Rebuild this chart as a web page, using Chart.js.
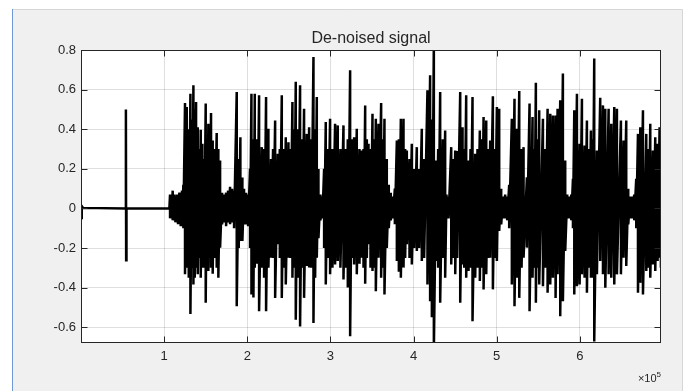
<!DOCTYPE html>
<html>
<head>
<meta charset="utf-8">
<script src="https://cdn.jsdelivr.net/npm/chart.js@4/dist/chart.umd.min.js"></script>
<style>
html,body{margin:0;padding:0;background:#ffffff;}
canvas{display:block;}
</style>
</head>
<body>
<canvas id="c" width="688" height="391"></canvas>
<script>
// ---- Data ----
const titleText = 'De-noised signal';

// quiet lead-in (sample index, amplitude)
const leadSample = [0, 600, 1200, 2500, 53600, 54000, 54300, 54700, 106300];
const leadAmp    = [0.01, -0.055, 0.012, 0.003, 0.0, 0.50, -0.262, 0.0, 0.0];

// active part: per column, sample index with its upper and lower excursion
const burstSample = [
 107100,108700,110300,111900,113500,115100,116700,118300,119900,121500,123100,
 125100,127200,129600,131600,133600,135200,136800,138400,140400,142400,144000,
 146000,148000,150000,151600,153200,154800,156400,158400,160400,163200,165200,
 167300,169700,172100,174500,176900,179300,181700,184100,187300,189700,191700,
 194100,196100,198500,201000,203300,205000,207400,209000,
 211800,214200,217400,220200,222600,225400,228600,231000,233500,236700,239100,
 241500,243900,246300,249500,251900,254300,256300,258300,260700,263500,265900,
 268300,271500,274400,276800,279600,281600,283600,285600,288000,290400,292400,
 294400,296800,299600,302400,305600,308800,312000,315700,318500,320900,323700,326000,
 328500,331700,334900,337800,339800,341800,343800,345800,348200,350600,352600,
 354600,357800,361000,363000,365000,367800,370200,372600,375000,377500,379900,
 382300,384700,387900,389900,391900,395100,397900,400700,403900,406700,409900,
 412700,416700,419900,422000,424400,427200,429600,432000,435200,438000,
 439600,442100,445300,447700,450100,452500,456100,458900,460900,463300,466100,
 468500,470900,474100,476900,479700,482200,484200,487400,489800,492200,495400,
 497800,500200,503000,505400,507800,510200,512600,515000,518200,521400,524300,
 527100,529900,532300,536300,539500,543100,545100,547100,549100,551100,
 555600,558400,561200,564400,567600,570800,573200,576400,579600,582400,584800,
 587300,589700,591700,593300,596500,599700,602500,605700,608500,610900,613300,
 615300,617300,620500,624500,627800,630600,634600,637800,641400,644600,649400,
 652600,655800,658200,660600,663000,665400,667800,669900,672700,675900,679900,
 682300,684700,687900,690700,693500,695900,697500
];
const burstHigh = [
 0.07,0.06,0.09,0.07,0.06,0.07,0.07,0.08,0.08,0.09,0.12,
 0.533,0.513,0.40,0.580,0.45,0.623,0.50,0.538,0.411,0.30,0.398,
 0.327,0.25,0.530,0.35,0.428,0.35,0.482,0.343,0.30,0.381,0.30,
 0.242,0.08,0.07,0.08,0.09,0.11,0.10,0.09,0.589,0.25,0.360,
 0.157,0.10,0.08,0.07,0.20,0.580,0.35,0.58,
 0.35,0.572,0.310,0.30,0.563,0.403,0.250,0.30,0.445,0.276,0.30,
 0.572,0.30,0.360,0.335,0.30,0.538,0.40,0.640,0.40,0.623,0.35,
 0.504,0.377,0.411,0.35,0.766,0.40,0.563,0.20,0.07,0.06,0.20,
 0.437,0.30,0.453,0.30,0.428,0.420,0.30,0.420,0.30,0.35,0.699,0.35,
 0.360,0.403,0.30,0.293,0.30,0.521,0.35,0.327,0.30,0.479,0.35,
 0.453,0.428,0.533,0.35,0.453,0.25,0.12,0.08,0.06,0.10,0.343,
 0.35,0.453,0.453,0.30,0.293,0.25,0.327,0.20,0.310,0.20,0.403,
 0.25,0.597,0.673,0.45,0.85,0.242,0.30,0.589,0.35,0.394,
 0.07,0.06,0.310,0.25,0.293,0.29,0.589,0.411,0.30,0.572,0.242,
 0.30,0.563,0.276,0.30,0.394,0.35,0.462,0.445,0.30,0.343,0.567,
 0.30,0.513,0.504,0.10,0.06,0.07,0.06,0.12,0.453,0.555,0.403,
 0.594,0.30,0.310,0.157,0.530,0.462,0.30,0.636,0.35,0.496,
 0.453,0.30,0.504,0.479,0.470,0.470,0.504,0.547,0.682,0.242,0.07,
 0.06,0.07,0.15,0.496,0.580,0.327,0.555,0.318,0.445,0.30,0.394,
 0.35,0.758,0.293,0.560,0.521,0.504,0.504,0.428,0.513,0.504,0.445,
 0.343,0.445,0.10,0.06,0.06,0.07,0.15,0.377,0.411,0.496,0.377,
 0.30,0.428,0.293,0.360,0.327,0.411,0.30
];
const burstLow = [
 -0.05,-0.05,-0.06,-0.06,-0.07,-0.07,-0.08,-0.08,-0.09,-0.09,-0.10,
 -0.333,-0.30,-0.35,-0.533,-0.30,-0.384,-0.35,-0.30,-0.333,-0.25,-0.350,
 -0.30,-0.30,-0.477,-0.30,-0.316,-0.25,-0.30,-0.33,-0.25,-0.30,-0.350,
 -0.198,-0.08,-0.07,-0.09,-0.07,-0.08,-0.07,-0.10,-0.494,-0.20,-0.164,
 -0.164,-0.08,-0.08,-0.09,-0.20,-0.435,-0.45,-0.30,
 -0.28,-0.519,-0.30,-0.35,-0.519,-0.30,-0.249,-0.25,-0.452,-0.181,-0.25,
 -0.452,-0.30,-0.384,-0.249,-0.25,-0.350,-0.30,-0.562,-0.35,-0.596,-0.30,
 -0.452,-0.291,-0.299,-0.30,-0.579,-0.35,-0.249,-0.15,-0.06,-0.05,-0.20,
 -0.384,-0.25,-0.333,-0.30,-0.283,-0.266,-0.30,-0.359,-0.30,-0.40,-0.646,-0.25,
 -0.283,-0.333,-0.28,-0.249,-0.30,-0.381,-0.25,-0.181,-0.30,-0.316,-0.30,
 -0.418,-0.249,-0.350,-0.30,-0.435,-0.20,-0.10,-0.06,-0.05,-0.08,-0.266,
 -0.32,-0.350,-0.299,-0.25,-0.181,-0.25,-0.283,-0.20,-0.215,-0.20,-0.266,
 -0.25,-0.384,-0.469,-0.55,-0.72,-0.266,-0.30,-0.477,-0.25,-0.350,
 -0.05,-0.05,-0.283,-0.25,-0.333,-0.25,-0.477,-0.283,-0.30,-0.350,-0.316,
 -0.30,-0.570,-0.350,-0.30,-0.367,-0.30,-0.409,-0.333,-0.25,-0.249,-0.409,
 -0.25,-0.266,-0.113,-0.08,-0.05,-0.05,-0.06,-0.10,-0.384,-0.494,-0.350,
 -0.452,-0.30,-0.249,-0.198,-0.519,-0.350,-0.30,-0.477,-0.30,-0.384,
 -0.393,-0.30,-0.426,-0.384,-0.350,-0.452,-0.333,-0.545,-0.469,-0.215,-0.05,
 -0.05,-0.06,-0.10,-0.435,-0.393,-0.384,-0.333,-0.350,-0.426,-0.30,-0.350,
 -0.35,-0.672,-0.333,-0.266,-0.333,-0.401,-0.333,-0.350,-0.384,-0.333,-0.333,
 -0.249,-0.291,-0.08,-0.05,-0.05,-0.06,-0.10,-0.426,-0.376,-0.435,-0.316,
 -0.30,-0.350,-0.283,-0.316,-0.266,-0.249,-0.30
];

// axes
const xRange = [0, 697600];
const yRange = [-0.68, 0.8];
const xTickValues = [100000, 200000, 300000, 400000, 500000, 600000];
const xTickLabels = ['1', '2', '3', '4', '5', '6'];
const xExponentText = ['\u00d710', '5'];
const yTickValues = [-0.6, -0.4, -0.2, 0, 0.2, 0.4, 0.6, 0.8];
const yTickLabels = ['-0.6', '-0.4', '-0.2', '0', '0.2', '0.4', '0.6', '0.8'];

// ---- build the line from the arrays ----
const points = [];
for (let i = 0; i < leadSample.length; i++) points.push({x: leadSample[i], y: leadAmp[i]});
for (let i = 0; i < burstSample.length; i++) {
  points.push({x: burstSample[i], y: burstHigh[i]});
  points.push({x: burstSample[i], y: burstLow[i]});
}

const FONT = 'Liberation Sans, Arial, Helvetica, sans-serif';
const AXIS_COLOR = '#262626';

const bgPlugin = {
  id: 'bg',
  beforeDraw(chart) {
    const ctx = chart.ctx, a = chart.chartArea;
    ctx.save();
    ctx.fillStyle = '#ffffff';
    ctx.fillRect(0, 0, chart.width, chart.height);
    ctx.fillStyle = '#f0f0f0';
    ctx.fillRect(12, 9, 671, chart.height - 9);
    ctx.strokeStyle = '#d6d6d6';
    ctx.lineWidth = 1;
    ctx.beginPath();
    ctx.moveTo(12, 9.5); ctx.lineTo(682.5, 9.5); ctx.lineTo(682.5, chart.height);
    ctx.stroke();
    ctx.strokeStyle = '#6f98d8';
    ctx.beginPath();
    ctx.moveTo(12.5, 9); ctx.lineTo(12.5, chart.height);
    ctx.stroke();
    ctx.fillStyle = '#ffffff';
    ctx.fillRect(a.left, a.top, a.right - a.left, a.bottom - a.top);
    ctx.restore();
  }
};

const framePlugin = {
  id: 'frame',
  afterDraw(chart) {
    const ctx = chart.ctx, a = chart.chartArea;
    const xs = chart.scales.x, ys = chart.scales.y;
    ctx.save();
    ctx.strokeStyle = AXIS_COLOR;
    ctx.lineWidth = 1;
    const L = Math.round(a.left) + 0.5, R = Math.round(a.right) - 0.5;
    const T = Math.round(a.top) + 0.5, B = Math.round(a.bottom) - 0.5;
    ctx.strokeRect(L, T, R - L, B - T);
    const tl = 6;
    ctx.beginPath();
    xTickValues.forEach(v => {
      const px = Math.round(xs.getPixelForValue(v)) + 0.5;
      ctx.moveTo(px, B); ctx.lineTo(px, B - tl);
      ctx.moveTo(px, T); ctx.lineTo(px, T + tl);
    });
    yTickValues.forEach(v => {
      const py = Math.round(ys.getPixelForValue(v)) + 0.5;
      ctx.moveTo(L, py); ctx.lineTo(L + tl, py);
      ctx.moveTo(R, py); ctx.lineTo(R - tl, py);
    });
    ctx.stroke();
    // exponent label
    ctx.fillStyle = AXIS_COLOR;
    ctx.textBaseline = 'alphabetic';
    ctx.textAlign = 'right';
    ctx.font = '8px ' + FONT;
    const supW = ctx.measureText(xExponentText[1]).width;
    ctx.fillText(xExponentText[1], R + 0.5, 377);
    ctx.font = '11px ' + FONT;
    ctx.fillText(xExponentText[0], R + 0.5 - supW, 382);
    ctx.restore();
  }
};

new Chart(document.getElementById('c'), {
  type: 'line',
  data: {
    datasets: [{
      data: points,
      borderColor: '#000000',
      borderWidth: 2.5,
      pointRadius: 0,
      tension: 0,
      fill: false,
      clip: 0,
      borderJoinStyle: 'miter'
    }]
  },
  options: {
    responsive: false,
    animation: false,
    parsing: false,
    normalized: true,
    events: [],
    layout: { padding: { left: 0, right: 27, top: 0, bottom: 0 } },
    plugins: {
      legend: { display: false },
      tooltip: { enabled: false },
      title: {
        display: true,
        text: titleText,
        fullSize: false,
        color: AXIS_COLOR,
        font: { family: FONT, size: 16, weight: 'normal', lineHeight: 1.2 },
        padding: { top: 29, bottom: 2 }
      }
    },
    scales: {
      x: {
        type: 'linear',
        min: xRange[0],
        max: xRange[1],
        afterBuildTicks: s => { s.ticks = xTickValues.map(v => ({ value: v })); },
        afterFit: s => { s.height = 48; },
        grid: { color: 'rgba(38,38,38,0.15)', drawTicks: false, lineWidth: 1 },
        border: { display: false },
        ticks: {
          autoSkip: false, maxRotation: 0, padding: 6,
          color: AXIS_COLOR,
          font: { family: FONT, size: 13 },
          callback: (v) => xTickLabels[xTickValues.indexOf(v)]
        }
      },
      y: {
        type: 'linear',
        min: yRange[0],
        max: yRange[1],
        afterBuildTicks: s => { s.ticks = yTickValues.map(v => ({ value: v })); },
        afterFit: s => { s.width = 81; },
        grid: { color: 'rgba(38,38,38,0.15)', drawTicks: false, lineWidth: 1 },
        border: { display: false },
        ticks: {
          autoSkip: false, padding: 5,
          color: AXIS_COLOR,
          font: { family: FONT, size: 13 },
          callback: (v) => yTickLabels[yTickValues.indexOf(v)]
        }
      }
    }
  },
  plugins: [bgPlugin, framePlugin]
});
</script>
</body>
</html>
